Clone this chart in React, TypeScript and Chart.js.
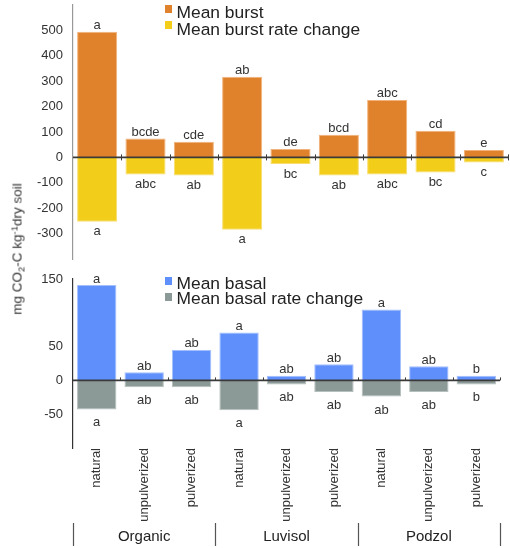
import React, { useEffect, useRef } from "react";
import { Chart, registerables } from "chart.js";

Chart.register(...registerables);

const FONT = '"Liberation Sans", Arial, Helvetica, sans-serif';

// ---- data ----
const categories = [
  "natural", "unpulverized", "pulverized",
  "natural", "unpulverized", "pulverized",
  "natural", "unpulverized", "pulverized",
];
const groups = ["Organic", "Luvisol", "Podzol"];

const meanBurst = [495, 74, 62, 318, 33, 89, 226, 105, 29];
const meanBurstRateChange = [-253, -67, -71, -285, -26, -71, -67, -59, -20];
const meanBasal = [141, 12, 45, 71, 7, 24, 105, 21, 7];
const meanBasalRateChange = [-43, -10, -10, -44, -6, -17, -24, -17, -6];

const burstLetters = ["a", "bcde", "cde", "ab", "de", "bcd", "abc", "cd", "e"];
const burstRateLetters = ["a", "abc", "ab", "a", "bc", "ab", "abc", "bc", "c"];
const basalLetters = ["a", "ab", "ab", "a", "ab", "ab", "a", "ab", "b"];
const basalRateLetters = ["a", "ab", "ab", "a", "ab", "ab", "ab", "ab", "b"];

const topTickValues = [500, 400, 300, 200, 100, 0, -100, -200, -300];
const bottomTickValues = [150, 50, 0, -50];

const COLORS = {
  burst: "#E0812B",
  burstRate: "#F2CD1A",
  basal: "#5F8FFB",
  basalRate: "#8B9A97",
};

// ---- plugins ----
const lettersPlugin = {
  id: "letters",
  afterDatasetsDraw(chart: any, _args: any, opts: any) {
    const ctx = chart.ctx;
    ctx.save();
    ctx.font = `13px ${FONT}`;
    ctx.fillStyle = "#333";
    ctx.textAlign = "center";
    ctx.textBaseline = "alphabetic";
    chart.data.datasets.forEach((ds: any, di: number) => {
      const meta = chart.getDatasetMeta(di);
      meta.data.forEach((bar: any, i: number) => {
        const v = ds.data[i];
        const t = ds.letters[i];
        if (v >= 0) ctx.fillText(t, bar.x, bar.y - opts.above);
        else ctx.fillText(t, bar.x, bar.y + opts.below);
      });
    });
    ctx.restore();
  },
};

const zeroPlugin = {
  id: "zeroLine",
  afterDatasetsDraw(chart: any, _args: any, opts: any) {
    const { ctx, chartArea, scales } = chart;
    const x = scales.x;
    const y = scales.y;
    const y0 = y.getPixelForValue(0);
    const half = (x.getPixelForValue(1) - x.getPixelForValue(0)) / 2;
    ctx.save();
    ctx.strokeStyle = opts.color;
    ctx.lineWidth = opts.width;
    ctx.beginPath();
    ctx.moveTo(chartArea.left, y0);
    ctx.lineTo(chartArea.right, y0);
    ctx.stroke();
    ctx.lineWidth = 1;
    for (let i = 1; i <= categories.length; i++) {
      const px = Math.round(x.getPixelForValue(i) - half) + 0.5;
      ctx.beginPath();
      ctx.moveTo(px, y0 - opts.up);
      ctx.lineTo(px, y0 + opts.down);
      ctx.stroke();
    }
    ctx.restore();
  },
};

const groupPlugin = {
  id: "groupLabels",
  afterDraw(chart: any) {
    const { ctx } = chart;
    const x = chart.scales.x;
    const half = (x.getPixelForValue(1) - x.getPixelForValue(0)) / 2;
    const h = chart.height;
    ctx.save();
    ctx.strokeStyle = "#555";
    ctx.lineWidth = 1.2;
    const per = categories.length / groups.length;
    for (let g = 0; g <= groups.length; g++) {
      const px = Math.round(x.getPixelForValue(g * per) - half) + 0.5;
      ctx.beginPath();
      ctx.moveTo(px, h - 25);
      ctx.lineTo(px, h - 2);
      ctx.stroke();
    }
    ctx.font = `15px ${FONT}`;
    ctx.fillStyle = "#222";
    ctx.textAlign = "center";
    ctx.textBaseline = "middle";
    groups.forEach((name, g) => {
      const cx = (x.getPixelForValue(g * per) + x.getPixelForValue(g * per + per - 1)) / 2;
      ctx.fillText(name, cx, h - 11);
    });
    ctx.restore();
  },
};

function TopChart() {
  const ref = useRef<HTMLCanvasElement | null>(null);
  useEffect(() => {
    if (!ref.current) return;
    const chart = new Chart(ref.current, {
      type: "bar",
      data: {
        labels: categories,
        datasets: [
          {
            label: "Mean burst",
            data: meanBurst,
            backgroundColor: COLORS.burst,
            borderColor: "#F2B27A",
            borderWidth: 1,
            letters: burstLetters,
          } as any,
          {
            label: "Mean burst rate change",
            data: meanBurstRateChange,
            backgroundColor: COLORS.burstRate,
            borderColor: "#F8DD6E",
            borderWidth: 1,
            letters: burstRateLetters,
          } as any,
        ],
      },
      options: {
        animation: false,
        responsive: false,
        maintainAspectRatio: false,
        layout: { padding: { top: 20, bottom: 20, left: 0, right: 2 } },
        datasets: { bar: { categoryPercentage: 1, barPercentage: 0.83 } },
        plugins: {
          legend: { display: false },
          tooltip: { enabled: false },
          letters: { above: 3, below: 13.5 },
          zeroLine: { color: "#3a3a3a", width: 1.6, up: 3, down: 3 },
        } as any,
        scales: {
          x: { display: false, stacked: true },
          y: {
            stacked: true,
            min: -400,
            max: 600,
            afterFit: (s: any) => { s.width = 73; },
            grid: { display: false, drawTicks: false },
            border: { display: true, color: "#999", width: 1.2 },
            ticks: {
              stepSize: 100,
              padding: 10,
              color: "#333",
              font: { size: 13, family: FONT },
              callback: (v: any) => (topTickValues.includes(Number(v)) ? String(v) : null),
            },
          },
        },
      },
      plugins: [zeroPlugin, lettersPlugin],
    } as any);
    return () => chart.destroy();
  }, []);
  return <canvas ref={ref} width={510} height={294} style={{ display: "block", position: "absolute", left: 0, top: -15 }} />;
}

function BottomChart() {
  const ref = useRef<HTMLCanvasElement | null>(null);
  useEffect(() => {
    if (!ref.current) return;
    const chart = new Chart(ref.current, {
      type: "bar",
      data: {
        labels: categories,
        datasets: [
          {
            label: "Mean basal",
            data: meanBasal,
            backgroundColor: COLORS.basal,
            borderColor: "#A4BFFD",
            borderWidth: 1,
            letters: basalLetters,
          } as any,
          {
            label: "Mean basal rate change",
            data: meanBasalRateChange,
            backgroundColor: COLORS.basalRate,
            borderColor: "#B5C0BE",
            borderWidth: 1,
            letters: basalRateLetters,
          } as any,
        ],
      },
      options: {
        animation: false,
        responsive: false,
        maintainAspectRatio: false,
        layout: { padding: { top: 20, bottom: 0, left: 0, right: 10 } },
        datasets: { bar: { categoryPercentage: 1, barPercentage: 0.83 } },
        plugins: {
          legend: { display: false },
          tooltip: { enabled: false },
          letters: { above: 2.5, below: 17 },
          zeroLine: { color: "#3a3a3a", width: 1.6, up: 3, down: 0 },
        } as any,
        scales: {
          x: {
            stacked: true,
            afterFit: (s: any) => { s.height = 100; },
            grid: { display: false, drawTicks: false },
            border: { display: false },
            ticks: {
              autoSkip: false,
              minRotation: 90,
              maxRotation: 90,
              padding: 0,
              color: "#333",
              font: { size: 13, family: FONT },
            },
          },
          y: {
            stacked: true,
            min: -100,
            max: 150,
            afterFit: (s: any) => { s.width = 73; },
            grid: { display: false, drawTicks: false },
            border: { display: true, color: "#333", width: 1.2 },
            ticks: {
              stepSize: 50,
              padding: 10,
              color: "#333",
              font: { size: 13, family: FONT },
              callback: (v: any) => (bottomTickValues.includes(Number(v)) ? String(v) : null),
            },
          },
        },
      },
      plugins: [zeroPlugin, lettersPlugin, groupPlugin],
    } as any);
    return () => chart.destroy();
  }, []);
  return <canvas ref={ref} width={510} height={289} style={{ display: "block", position: "absolute", left: 0, top: 259 }} />;
}

function LegendRow({ color, text, top, boxTop }: { color: string; text: string; top: number; boxTop: number }) {
  return (
    <>
      <div style={{ position: "absolute", left: 165, top: boxTop, width: 7, height: 8, background: color }} />
      <div
        style={{
          position: "absolute",
          left: 176.5,
          top,
          fontFamily: FONT,
          fontSize: 17.4,
          lineHeight: "17px",
          color: "#222",
          whiteSpace: "nowrap",
        }}
      >
        {text}
      </div>
    </>
  );
}

export default function App() {
  return (
    <div
      style={{
        position: "absolute",
        left: 0,
        top: 0,
        width: 510,
        height: 548,
        overflow: "hidden",
        background: "#fff",
      }}
    >
      <TopChart />
      <BottomChart />
      <LegendRow color={COLORS.burst} text="Mean burst" top={3.5} boxTop={5.3} />
      <LegendRow color={COLORS.burstRate} text="Mean burst rate change" top={21} boxTop={21} />
      <LegendRow color={COLORS.basal} text="Mean basal" top={274.5} boxTop={277.3} />
      <LegendRow color={COLORS.basalRate} text="Mean basal rate change" top={290} boxTop={292.7} />
      <div style={{ position: "absolute", left: 18, top: 249, width: 0, height: 0 }}>
        <div
          style={{
            position: "absolute",
            left: 0,
            top: 0,
            transform: "translate(-50%, -50%) rotate(-90deg)",
            fontFamily: FONT,
            fontSize: 13.5,
            lineHeight: "16px",
            color: "#333",
            whiteSpace: "nowrap",
          }}
        >
          mg CO
          <span style={{ fontSize: "0.7em", position: "relative", top: "0.3em" }}>2</span>
          -C kg
          <span style={{ fontSize: "0.7em", position: "relative", top: "-0.45em" }}>-1</span>
          dry soil
        </div>
      </div>
    </div>
  );
}
